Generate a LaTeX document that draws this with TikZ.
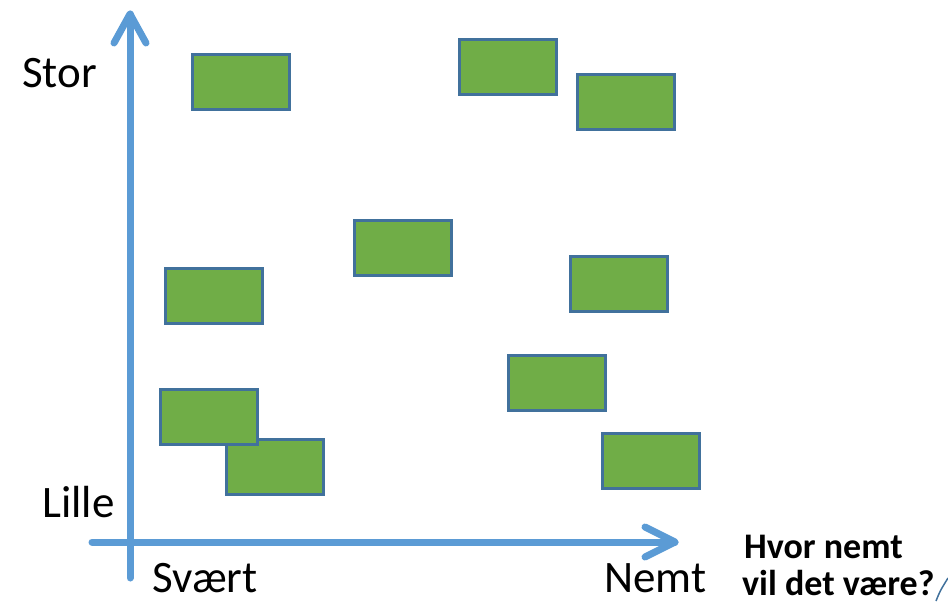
\documentclass[tikz,border=0pt]{standalone}
\usepackage{fontspec}
\usetikzlibrary{calc}
\setmainfont{Carlito}
\begin{document}
\definecolor{axisblue}{HTML}{5B9BD5}
\definecolor{boxfill}{HTML}{70AD47}
\definecolor{boxedge}{HTML}{41719C}
\begin{tikzpicture}[x=1pt,y=-1pt,
  axis/.style={draw=axisblue,line width=7pt,line cap=round,line join=round},
  task/.style={draw=boxedge,fill=boxfill,line width=2.5pt,rectangle,inner sep=0pt,minimum width=97pt,minimum height=55pt,anchor=north west},
  lbl/.style={inner sep=0pt,anchor=base west,font=\fontsize{45}{54}\selectfont},
  qlbl/.style={inner sep=0pt,anchor=base west,font=\fontsize{36}{43}\selectfont\bfseries}]
\useasboundingbox (0,0) rectangle (948,606);

% axes
\coordinate (xs) at (92,542);
\coordinate (xe) at (675,542);
\coordinate (ys) at (130,578);
\coordinate (ye) at (130,14);
\draw[axis] (xs) -- (xe);
\draw[axis] ($(xe)+(-30,-15)$) -- (xe) -- ($(xe)+(-30,15)$);
\draw[axis] (ys) -- (ye);
\draw[axis] ($(ye)+(-16,29)$) -- (ye) -- ($(ye)+(16,29)$);

% tasks
\node[task] (b9) at (225,438) {};
\node[task] (b8) at (159,388) {};
\node[task] (b1) at (191,53) {};
\node[task] (b2) at (458,38) {};
\node[task] (b3) at (576,73) {};
\node[task] (b4) at (353,219) {};
\node[task] (b5) at (164,267) {};
\node[task] (b6) at (569,255) {};
\node[task] (b7) at (507,354) {};
\node[task] (b10) at (601,432) {};

% labels
\node[lbl] (stor) at (22,87) {Stor};
\node[lbl] (lille) at (42,517) {Lille};
\node[lbl] (svaert) at (152,592) {Svært};
\node[lbl] (nemt) at (604,592) {Nemt};
\node[qlbl] (q1) at (744,558) {Hvor nemt};
\node[qlbl] (q2) at (742,595) {vil det være?};

% edge of a curve at the corner
\draw[draw=boxedge,line width=1.5pt] (936,601) .. controls (940,591) .. (948,578);
\end{tikzpicture}
\end{document}
